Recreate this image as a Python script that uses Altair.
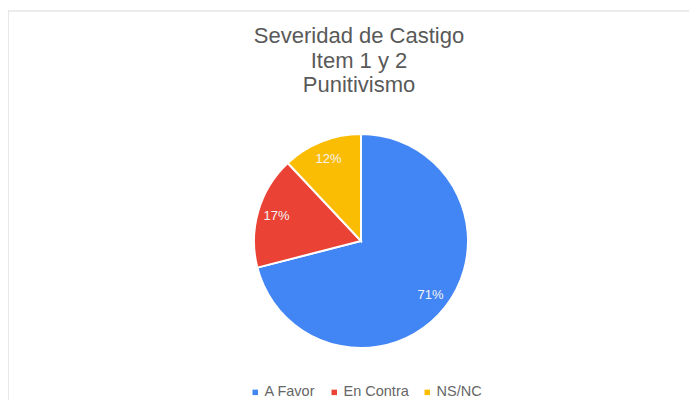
import altair as alt
import pandas as pd

# Data
categories = ["A Favor", "En Contra", "NS/NC"]
values = [71, 17, 12]
labels = ["71%", "17%", "12%"]
colors = ["#4285F4", "#EA4335", "#FBBC04"]
title_lines = ["Severidad de Castigo", "Item 1 y 2", "Punitivismo"]

df = pd.DataFrame({
    "categoria": categories,
    "valor": values,
    "etiqueta": labels,
    "orden": list(range(len(categories))),
})

FONT = "Liberation Sans"

color_enc = alt.Color(
    "categoria:N",
    scale=alt.Scale(domain=categories, range=colors),
    sort=categories,
    legend=alt.Legend(
        title=None,
        orient="none",
        direction="horizontal",
        legendX=210,
        legendY=285,
        symbolType="square",
        symbolSize=30,
        symbolStrokeWidth=0,
        labelFont=FONT,
        labelFontSize=14.5,
        labelColor="#666666",
        labelOffset=2,
        columnPadding=11,
        padding=0,
    ),
)

base = alt.Chart(df).encode(
    theta=alt.Theta("valor:Q", stack=True),
    order=alt.Order("orden:Q"),
)

pie = base.mark_arc(outerRadius=107, stroke="white", strokeWidth=2).encode(
    color=color_enc
)

text = base.mark_text(
    radius=88, font=FONT, fontSize=13, color="#f4f4f4"
).encode(text="etiqueta:N")

frame_df = pd.DataFrame({"k": [0]})
top_line = alt.Chart(frame_df).mark_rule(color="#d9d9d9", strokeWidth=1.2).encode(
    x=alt.value(-30), x2=alt.value(661), y=alt.value(-89)
)
left_line = alt.Chart(frame_df).mark_rule(color="#d9d9d9", strokeWidth=1.2).encode(
    x=alt.value(-30), y=alt.value(-89), y2=alt.value(300)
)

title = alt.Chart(frame_df).mark_text(
    text=title_lines,
    font=FONT,
    fontSize=22,
    color="#595959",
    align="center",
    baseline="alphabetic",
    lineHeight=24.5,
).encode(x=alt.value(321), y=alt.value(-57))

chart = alt.layer(top_line, left_line, title, pie, text).properties(
    width=646,
    height=282,
    background="white",
    autosize=alt.AutoSizeParams(type="none"),
    padding={"left": 30, "top": 92, "right": 5, "bottom": 20},
).configure_view(strokeWidth=0, stroke=None)

chart.save("out.html", embed_options={"renderer": "svg", "actions": False})
